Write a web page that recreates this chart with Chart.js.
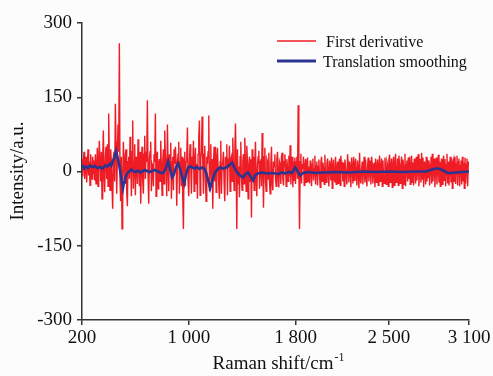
<!DOCTYPE html>
<html>
<head>
<meta charset="utf-8">
<script src="https://cdn.jsdelivr.net/npm/chart.js@4/dist/chart.umd.min.js"></script>
<style>
  html, body { margin: 0; padding: 0; background: #fcfcfc; }
  canvas { display: block; }
</style>
</head>
<body>
<canvas id="c" width="493" height="376"></canvas>
<script>
// ---- data ----
const shiftStart = 200;   // first Raman shift (cm-1) of the derivative trace
const shiftStep = 5;      // spacing of the derivative samples (cm-1)

// one row = 100 cm-1 (20 samples)
const firstDerivative = [
  25, -10, 18, 40, -15, 5, 30, -22, 12, 45, -8, 20, -28, 35, 10, -15, 30, -5, 22, -18,
  35, -25, 10, 48, -30, 20, 62, 15, -20, 40, -55, 25, 83, -10, -42, 30, 50, -15, 55, -30,
  117, 20, -38, 45, 20, -30, -75, 30, 40, -20, 137, 60, -45, 30, 95, 40, 259, -20, -60, 30,
  -116, -30, 60, 15, -20, 35, 45, -40, -70, 20, 30, -15, 70, 25, -50, 40, 103, -35, 20, 55,
  -48, 30, 15, -25, 65, 20, -30, 40, -65, 10, 50, -20, -45, 35, 72, -15, 40, 20, 144, -10,
  -65, 25, 40, 60, -40, 15, 10, -30, 35, 20, 117, -50, 30, 40, -35, 15, 25, -20, 62, 10,
  -48, 20, 45, -25, 83, 30, 20, -50, 95, 15, -40, 35, 10, 58, -55, 20, 30, -38, 45, 15,
  50, 20, -69, 15, 35, 60, -45, 20, 48, -30, 30, -52, -116, 25, 40, -30, 20, 30, 89, -20,
  -50, 20, 55, 10, -45, 30, 10, 62, -40, 20, 48, -25, 15, -55, 35, 70, 103, -48, 25, 40,
  111, 20, -45, 35, 52, -20, -60, 30, 15, 40, 113, -40, 20, 55, -30, 25, -75, 15, 50, -20,
  50, -42, 25, 48, 10, -30, -55, 20, 62, -45, 15, 20, 40, -25, -60, 30, 10, 55, -48, 20,
  15, 52, -40, 25, 30, -20, 68, 10, -38, 40, 97, 20, -116, 45, -25, 10, -52, 30, 60, -15,
  -38, 20, 35, -25, 68, 15, -40, 52, 20, -55, 10, 30, -20, 25, -93, 45, -15, 30, -38, 20,
  60, -20, -50, 15, 30, 42, -35, 20, 25, -30, 78, 15, -73, 30, 48, -20, -40, 25, 20, -15,
  38, -20, -45, 15, 50, -25, -38, 20, 10, 35, -15, -30, 25, 40, -10, -32, 20, 15, -25, 30,
  38, -15, -28, 20, 35, 10, -30, 25, 8, -20, 32, -10, 53, -26, 15, 30, -32, 20, -18, 28,
  -25, 20, 30, -15, 134, 10, -116, 20, 36, -24, 15, 5, 30, -28, 10, 25, -22, 18, 28, -20,
  10, -24, 22, 8, -30, 15, 26, -18, 5, 32, -26, 12, 20, -28, 10, 24, -8, -32, 18, 30,
  -20, 18, 6, -26, 34, -10, -22, 14, 26, -5, -30, 22, 12, -18, 28, -34, 10, 24, -15, -22,
  30, -26, 4, 20, -24, 15, 26, -28, 32, 5, 12, -20, 18, -30, 24, 8, -10, -26, 35, 15,
  -22, 20, 8, -32, 28, 10, -24, 30, -18, 14, 26, -8, -28, 22, 5, -34, 38, -15, -24, 6,
  20, -26, 12, 30, -22, 24, -10, -30, 12, 28, -20, 5, 22, -26, 30, 15, -24, 8, 18, -32,
  26, -22, 10, 24, -28, 10, 32, -20, 6, 26, -30, 22, -12, -24, 28, 6, -26, 20, 14, -30,
  24, 34, -22, 8, 26, -32, 12, 30, -28, 15, 36, -22, -10, 26, -28, 32, 10, -24, 14, 30,
  -34, 24, 8, -26, 36, -30, 15, 22, -20, 28, -15, 30, -26, 10, 32, -22, 18, -28, 26, 12,
  -24, 30, -18, 20, 35, -30, 12, 25, -22, 38, -15, 28, -32, 20, 10, -26, 30, -20, 24, -12,
  22, -28, 15, 30, -24, 36, -20, 10, 26, -32, 18, 28, -26, 12, 34, -22, 20, -30, 15, 26,
  -26, 20, 32, -18, 25, -30, 14, 36, -24, 20, -28, 10, 30, -22, 26, -34, 18, 24, -20, 30,
  -25, 15, 32, -28, 20, 26, -30, 12, 22, -26, 30, -20, 18, -34, 28, -24, 14, 26, -30, 20,
  10
];

const smoothShift = [
  200, 215, 230, 245, 260, 280, 297, 315, 335, 355,
  372, 390, 410, 420, 432, 445, 455, 465, 477, 492,
  507, 515, 522, 537, 555, 570, 582, 600, 620, 635,
  650, 670, 687, 705, 725, 745, 762, 785, 807, 820,
  830, 845, 860, 875, 885, 897, 910, 920, 935, 950,
  965, 980, 995, 1015, 1040, 1062, 1080, 1100, 1115, 1130,
  1145, 1160, 1175, 1197, 1215, 1234, 1260, 1287, 1309, 1324,
  1339, 1362, 1384, 1407, 1429, 1444, 1467, 1482, 1497, 1519,
  1550, 1587, 1630, 1669, 1700, 1722, 1750, 1774, 1797, 1812,
  1834, 1857, 1900, 1950, 2000, 2100, 2200, 2300, 2400, 2500,
  2600, 2700, 2771, 2800, 2824, 2850, 2869, 2890, 2914, 2940,
  2970, 3000, 3050, 3100
];
const translationSmoothing = [
  14, 6, 10, 7, 12, 9, 11, 7, 9, 6,
  12, 10, 16, 12, 22, 30, 41, 30, 16, -10,
  -34, -22, -15, -4, 0, 4, 1, -1, 2, -2,
  0, 3, 1, -1, 1, 3, 1, -2, -3, 2,
  8, 20, 5, -12, -8, 2, 12, 16, 6, -10,
  -24, -5, 8, 10, 6, 9, 5, 8, 6, -2,
  -18, -34, -20, -2, 4, 8, 6, 9, 14, 18,
  10, -2, -8, -12, -4, -2, -12, -18, -8, -4,
  -2, -4, -3, -5, -2, -4, -1, -3, 8, 2,
  -8, -3, -1, -3, -2, -1, -2, 0, -1, 0,
  -1, 0, 0, 2, 4, 6, 6, 4, 1, -3,
  -3, -2, -1, 0
];

const xTickValues = [200, 1000, 1800, 2500, 3100];
const xTickLabels = ['200', '1 000', '1 800', '2 500', '3 100'];
const yTickValues = [-300, -150, 0, 150, 300];

const seriesNames = ['First derivative', 'Translation smoothing'];
const seriesColors = ['#ee1c25', '#2b3590'];

// ---- build datasets ----
const redPoints = firstDerivative.map((v, i) => ({ x: shiftStart + i * shiftStep, y: v }));
const bluePoints = smoothShift.map((s, i) => ({ x: s, y: translationSmoothing[i] }));

const SERIF = '"Liberation Serif", "Times New Roman", serif';
const AXIS = '#333333';

const overlay = {
  id: 'overlay',
  afterDraw(chart) {
    const ctx = chart.ctx;
    ctx.save();
    ctx.fillStyle = '#111';
    // y title
    ctx.save();
    ctx.translate(18, 171);
    ctx.rotate(-Math.PI / 2);
    ctx.font = '19px ' + SERIF;
    ctx.textAlign = 'center';
    ctx.textBaseline = 'middle';
    ctx.fillText('Intensity/a.u.', 0, 0);
    ctx.restore();
    // x title with superscript
    const main = 'Raman shift/cm';
    const sup = '-1';
    ctx.font = '19px ' + SERIF;
    const wMain = ctx.measureText(main).width;
    ctx.font = '12px ' + SERIF;
    const wSup = ctx.measureText(sup).width;
    const x0 = 278 - (wMain + wSup) / 2;
    ctx.textAlign = 'left';
    ctx.textBaseline = 'alphabetic';
    ctx.font = '19px ' + SERIF;
    ctx.fillText(main, x0, 369);
    ctx.font = '12px ' + SERIF;
    ctx.fillText(sup, x0 + wMain + 1, 361);
    // legend
    ctx.lineCap = 'butt';
    ctx.strokeStyle = seriesColors[0];
    ctx.lineWidth = 1.5;
    ctx.beginPath(); ctx.moveTo(277, 41); ctx.lineTo(316, 41); ctx.stroke();
    ctx.strokeStyle = seriesColors[1];
    ctx.lineWidth = 3;
    ctx.beginPath(); ctx.moveTo(277, 61); ctx.lineTo(316, 61); ctx.stroke();
    ctx.font = '16px ' + SERIF;
    ctx.textBaseline = 'middle';
    ctx.fillStyle = '#111';
    ctx.fillText(seriesNames[0], 326, 43);
    ctx.fillText(seriesNames[1], 323, 63);
    ctx.restore();
  }
};

const bg = {
  id: 'bg',
  beforeDraw(chart) {
    const ctx = chart.ctx;
    ctx.save();
    ctx.fillStyle = '#fcfcfc';
    ctx.fillRect(0, 0, chart.width, chart.height);
    ctx.restore();
  }
};

new Chart(document.getElementById('c'), {
  type: 'line',
  data: {
    datasets: [
      {
        label: seriesNames[0],
        data: redPoints,
        borderColor: seriesColors[0],
        borderWidth: 1.4,
        pointRadius: 0,
        tension: 0,
        order: 2
      },
      {
        label: seriesNames[1],
        data: bluePoints,
        borderColor: seriesColors[1],
        borderWidth: 2.6,
        pointRadius: 0,
        tension: 0,
        order: 1
      }
    ]
  },
  options: {
    responsive: false,
    animation: false,
    devicePixelRatio: 1,
    layout: { padding: { top: 23, right: 24, left: 0, bottom: 0 } },
    plugins: { legend: { display: false }, tooltip: { enabled: false } },
    scales: {
      x: {
        type: 'linear',
        min: 200,
        max: 3100,
        afterBuildTicks: (s) => { s.ticks = xTickValues.map(v => ({ value: v })); },
        afterFit: (s) => { s.height = 56; },
        ticks: {
          autoSkip: false,
          maxRotation: 0,
          padding: 2,
          color: '#111',
          font: { family: SERIF, size: 19 },
          callback: (v) => { const k = xTickValues.indexOf(v); return k >= 0 ? xTickLabels[k] : ''; }
        },
        grid: { drawOnChartArea: false, drawTicks: true, tickLength: 5, color: AXIS, lineWidth: 1.5 },
        border: { display: true, color: AXIS, width: 1.5 }
      },
      y: {
        min: -300,
        max: 300,
        afterBuildTicks: (s) => { s.ticks = yTickValues.map(v => ({ value: v })); },
        afterFit: (s) => { s.width = 82; },
        ticks: {
          padding: 5,
          color: '#111',
          font: { family: SERIF, size: 19 }
        },
        grid: { drawOnChartArea: false, drawTicks: true, tickLength: 5, color: AXIS, lineWidth: 1.5 },
        border: { display: true, color: AXIS, width: 1.5 }
      }
    }
  },
  plugins: [bg, overlay]
});
</script>
</body>
</html>
